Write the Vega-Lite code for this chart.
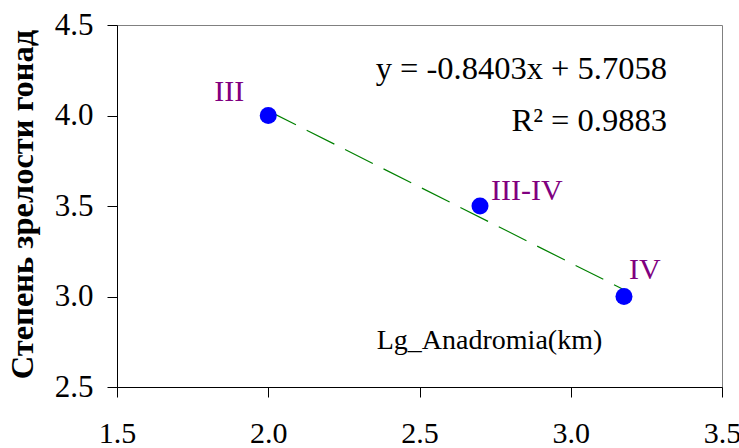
{
  "$schema": "https://vega.github.io/schema/vega-lite/v6.json",
  "width": 605,
  "height": 362,
  "autosize": {"type": "none"},
  "padding": {"left": 117, "top": 25, "right": 17, "bottom": 61},
  "background": "white",
  "config": {
    "view": {"stroke": "#808080", "strokeWidth": 1},
    "font": "Liberation Serif",
    "text": {"font": "Liberation Serif"}
  },
  "datasets": {
    "points": [
      {"lg": 2.0, "stage": 4.0, "label": "III"},
      {"lg": 2.7, "stage": 3.5, "label": "III-IV"},
      {"lg": 3.176, "stage": 3.0, "label": "IV"}
    ],
    "notes": [
      {"lg": 3.318, "stage": 4.255, "text": "y = -0.8403x + 5.7058"},
      {"lg": 3.318, "stage": 3.97, "text": "R² = 0.9883"}
    ]
  },
  "data": {"name": "points"},
  "encoding": {
    "x": {
      "field": "lg",
      "type": "quantitative",
      "scale": {"domain": [1.5, 3.5], "nice": false, "zero": false},
      "axis": {
        "title": "Lg_Anadromia(km)",
        "values": [1.5, 2.0, 2.5, 3.0, 3.5],
        "format": ".1f",
        "grid": false,
        "domainColor": "black",
        "tickColor": "black",
        "tickSize": 10,
        "labelFont": "Liberation Serif",
        "labelFontSize": 30,
        "labelColor": "black",
        "labelPadding": 21,
        "labelFlush": false,
        "labelOverlap": false,
        "titleFont": "Liberation Serif",
        "titleFontSize": 28,
        "titleFontWeight": "normal",
        "titleColor": "black",
        "titleX": 372,
        "titleY": -47,
        "titleAlign": "center",
        "titleBaseline": "middle"
      }
    },
    "y": {
      "field": "stage",
      "type": "quantitative",
      "scale": {"domain": [2.5, 4.5], "nice": false, "zero": false},
      "axis": {
        "title": "Степень зрелости гонад",
        "values": [2.5, 3.0, 3.5, 4.0, 4.5],
        "format": ".1f",
        "grid": false,
        "domainColor": "black",
        "tickColor": "black",
        "tickSize": 10,
        "labelFont": "Liberation Serif",
        "labelFontSize": 31,
        "labelColor": "black",
        "labelPadding": 14,
        "labelFlush": false,
        "labelOverlap": false,
        "titleFont": "Liberation Serif",
        "titleFontSize": 32.5,
        "titleFontWeight": "bold",
        "titleColor": "black",
        "titleX": -95,
        "titleY": 179,
        "titleAngle": 270,
        "titleAlign": "center",
        "titleBaseline": "middle"
      }
    }
  },
  "layer": [
    {
      "transform": [{"regression": "stage", "on": "lg"}],
      "mark": {"type": "line", "color": "#008000", "strokeWidth": 1.2, "strokeDash": [31, 12]}
    },
    {
      "mark": {"type": "point", "shape": "circle", "filled": true, "size": 290, "color": "#0000FF", "opacity": 1}
    },
    {
      "transform": [{"filter": "datum.label == 'III'"}],
      "mark": {"type": "text", "align": "right", "baseline": "middle", "dx": -24, "dy": -24, "fontSize": 30, "color": "#800080"},
      "encoding": {"text": {"field": "label"}}
    },
    {
      "transform": [{"filter": "datum.label == 'III-IV'"}],
      "mark": {"type": "text", "align": "left", "baseline": "middle", "dx": 11, "dy": -15, "fontSize": 30, "color": "#800080"},
      "encoding": {"text": {"field": "label"}}
    },
    {
      "transform": [{"filter": "datum.label == 'IV'"}],
      "mark": {"type": "text", "align": "left", "baseline": "middle", "dx": 5, "dy": -27, "fontSize": 30, "color": "#800080"},
      "encoding": {"text": {"field": "label"}}
    },
    {
      "data": {"name": "notes"},
      "mark": {"type": "text", "align": "right", "baseline": "middle", "fontSize": 32.5, "color": "black"},
      "encoding": {"text": {"field": "text"}}
    }
  ]
}
